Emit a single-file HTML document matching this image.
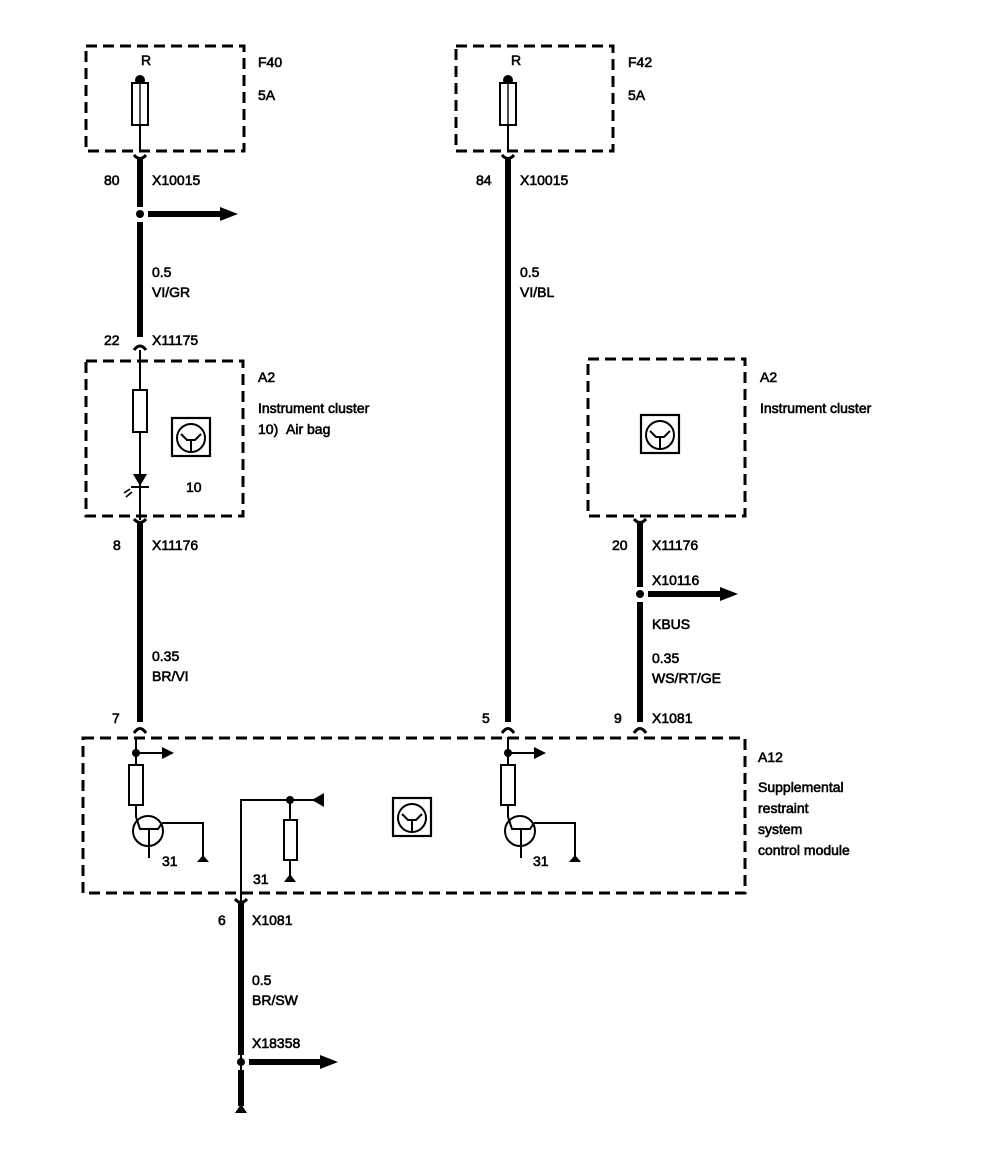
<!DOCTYPE html>
<html><head><meta charset="utf-8"><style>
html,body{margin:0;padding:0;background:#fff;}
svg{display:block;}
text{font-family:"Liberation Sans",sans-serif;font-size:14px;fill:#000;stroke:#000;stroke-width:0.6;}
.d{fill:none;stroke:#000;stroke-width:3;stroke-dasharray:11,6;}
.w{stroke:#000;stroke-width:6;fill:none;}
.t{stroke:#000;stroke-width:2;fill:none;}
</style></head><body>
<svg width="992" height="1166" viewBox="0 0 992 1166" xmlns="http://www.w3.org/2000/svg">
<defs>
<g id="fuse"><circle cx="0" cy="0" r="5" fill="#000"/><rect x="-8" y="3" width="16" height="42" fill="#fff" stroke="#000" stroke-width="2"/><line x1="0" y1="3" x2="0" y2="45" stroke="#000" stroke-width="1.4"/><line x1="0" y1="45" x2="0" y2="72" stroke="#000" stroke-width="2"/></g>
<g id="conn"><path d="M-6,-5 Q0,2 6,-5" stroke="#000" stroke-width="3" fill="none"/><line x1="0" y1="-1" x2="0" y2="8" stroke="#000" stroke-width="6"/></g>
<g id="tri"><rect x="-19" y="-20" width="38" height="38" fill="#fff" stroke="#000" stroke-width="2.2"/><circle cx="0" cy="0" r="14" fill="none" stroke="#000" stroke-width="2"/><path d="M-10,-4 L-4,2 L4,2 L10,-4 M0,2 L0,13" stroke="#000" stroke-width="2" fill="none"/></g>
<g id="mod"><circle cx="0" cy="0" r="4" fill="#000"/><line x1="0" y1="0" x2="28" y2="0" class="t"/><path d="M26,-6 L38,0 L26,6 Z" fill="#000"/><line x1="0" y1="-16" x2="0" y2="12" class="t"/><rect x="-7" y="12" width="14" height="40" fill="#fff" stroke="#000" stroke-width="2"/><line x1="0" y1="52" x2="0" y2="64" class="t"/><circle cx="12" cy="78" r="15" fill="none" stroke="#000" stroke-width="2"/><path d="M0,64 L4,76 L22,76 L26,70 M13,76 L13,105" class="t"/><path d="M26,70 L67,70 L67,107" class="t"/><path d="M61,109 L73,109 L67,102 Z" fill="#000"/></g>
</defs>

<rect x="86" y="46" width="158" height="105" class="d"/>
<rect x="456" y="46" width="157" height="105" class="d"/>
<use href="#fuse" x="140" y="80"/>
<use href="#fuse" x="508" y="80"/>
<text x="141" y="65">R</text><text x="511" y="65">R</text>
<text x="258" y="67">F40</text><text x="258" y="100">5A</text>
<text x="628" y="67">F42</text><text x="628" y="100">5A</text>

<use href="#conn" x="140" y="160"/>
<line x1="140" y1="162" x2="140" y2="207" class="w"/>
<circle cx="140" cy="214" r="4" fill="#000"/>
<line x1="148" y1="214" x2="222" y2="214" class="w"/>
<path d="M220,207 L238,214 L220,221 Z" fill="#000"/>
<line x1="140" y1="222" x2="140" y2="337" class="w"/>
<path d="M134,350 Q140,342 146,350" stroke="#000" stroke-width="3" fill="none"/>
<text x="104" y="185">80</text><text x="152" y="185">X10015</text>
<text x="152" y="277">0.5</text><text x="152" y="297">VI/GR</text>
<text x="104" y="345">22</text><text x="152" y="345">X11175</text>

<rect x="86" y="361" width="157" height="155" class="d"/>
<line x1="140" y1="350" x2="140" y2="520" class="t"/>
<rect x="133" y="390" width="14" height="42" fill="#fff" stroke="#000" stroke-width="2"/>
<path d="M133,474 L147,474 L140,486 Z" fill="#000"/>
<line x1="131" y1="487" x2="149" y2="487" stroke="#000" stroke-width="2"/>
<path d="M124,493 L130,489 M126,497 L132,492" stroke="#000" stroke-width="1.6"/>
<use href="#tri" x="191" y="438"/>
<text x="186" y="492">10</text>
<text x="258" y="382">A2</text><text x="258" y="413">Instrument cluster</text><text x="258" y="434">10)&#160;&#160;Air bag</text>
<use href="#conn" x="140" y="524"/>
<line x1="140" y1="528" x2="140" y2="722" class="w"/>
<text x="113" y="550">8</text><text x="152" y="550">X11176</text>
<text x="152" y="661">0.35</text><text x="152" y="681">BR/VI</text>
<text x="112" y="723">7</text>
<path d="M134,733 Q140,724 146,733" stroke="#000" stroke-width="3" fill="none"/>

<use href="#conn" x="508" y="160"/>
<line x1="508" y1="162" x2="508" y2="722" class="w"/>
<path d="M502,733 Q508,724 514,733" stroke="#000" stroke-width="3" fill="none"/>
<text x="476" y="185">84</text><text x="520" y="185">X10015</text>
<text x="520" y="277">0.5</text><text x="520" y="297">VI/BL</text>
<text x="482" y="723">5</text>

<rect x="588" y="359" width="157" height="157" class="d"/>
<use href="#tri" x="660" y="435"/>
<text x="760" y="382">A2</text><text x="760" y="413">Instrument cluster</text>
<use href="#conn" x="640" y="524"/>
<line x1="640" y1="528" x2="640" y2="587" class="w"/>
<circle cx="640" cy="594" r="4" fill="#000"/>
<line x1="648" y1="594" x2="722" y2="594" class="w"/>
<path d="M720,587 L738,594 L720,601 Z" fill="#000"/>
<line x1="640" y1="602" x2="640" y2="722" class="w"/>
<path d="M634,733 Q640,724 646,733" stroke="#000" stroke-width="3" fill="none"/>
<text x="612" y="550">20</text><text x="652" y="550">X11176</text>
<text x="652" y="585">X10116</text><text x="652" y="629">KBUS</text>
<text x="652" y="663">0.35</text><text x="652" y="683">WS/RT/GE</text>
<text x="614" y="723">9</text><text x="652" y="723">X1081</text>

<rect x="83" y="738" width="662" height="155" class="d"/>
<use href="#mod" x="136" y="753"/>
<use href="#mod" x="508" y="753"/>
<text x="162" y="866">31</text><text x="533" y="866">31</text>
<path d="M241,1110 L241,800 L320,800" class="t"/>
<circle cx="290" cy="800" r="4" fill="#000"/>
<path d="M312,800 L324,793 L324,807 Z" fill="#000"/>
<line x1="290" y1="800" x2="290" y2="880" class="t"/>
<rect x="284" y="820" width="13" height="40" fill="#fff" stroke="#000" stroke-width="2"/>
<path d="M284,882 L296,882 L290,874 Z" fill="#000"/>
<text x="253" y="884">31</text>
<use href="#tri" x="412" y="818"/>
<text x="758" y="762">A12</text><text x="758" y="792">Supplemental</text><text x="758" y="813">restraint</text><text x="758" y="834">system</text><text x="758" y="855">control module</text>

<use href="#conn" x="241" y="904"/>
<line x1="241" y1="908" x2="241" y2="1055" class="w"/>
<circle cx="241" cy="1062" r="4" fill="#000"/>
<line x1="249" y1="1062" x2="322" y2="1062" class="w"/>
<path d="M320,1055 L338,1062 L320,1069 Z" fill="#000"/>
<line x1="241" y1="1070" x2="241" y2="1106" class="w"/>
<path d="M235,1113 L247,1113 L241,1104 Z" fill="#000"/>
<text x="218" y="925">6</text><text x="252" y="925">X1081</text>
<text x="252" y="985">0.5</text><text x="252" y="1005">BR/SW</text>
<text x="252" y="1048">X18358</text>
</svg>
</body></html>
